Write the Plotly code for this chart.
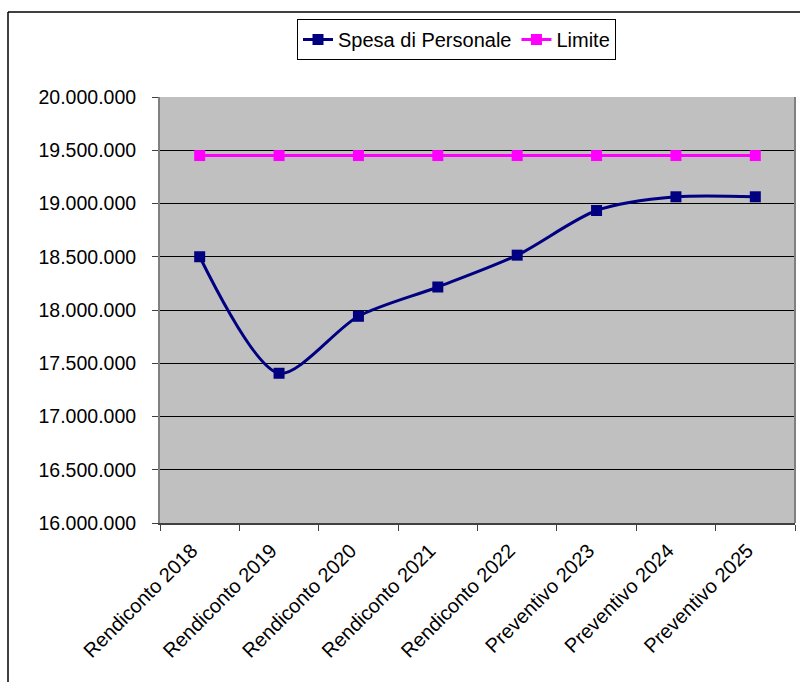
import plotly.graph_objects as go

# Categories and series
categories = [
    "Rendiconto 2018", "Rendiconto 2019", "Rendiconto 2020", "Rendiconto 2021",
    "Rendiconto 2022", "Preventivo 2023", "Preventivo 2024", "Preventivo 2025",
]
spesa_personale = [18500000, 17406000, 17941000, 18216000, 18515000, 18934000, 19063000, 19063000]
limite = [19450000] * 8

y_ticks = [16000000 + 500000 * i for i in range(9)]
y_tick_labels = [f"{v:,}".replace(",", ".") for v in y_ticks]

FONT = "Liberation Sans, Arial, sans-serif"

fig = go.Figure()
fig.add_trace(go.Scatter(
    x=categories, y=spesa_personale, name="Spesa di Personale",
    mode="lines+markers",
    line=dict(color="#000080", width=3, shape="spline", smoothing=0.8),
    marker=dict(symbol="square", size=11, color="#000080"),
))
fig.add_trace(go.Scatter(
    x=categories, y=limite, name="Limite",
    mode="lines+markers",
    line=dict(color="#FF00FF", width=3),
    marker=dict(symbol="square", size=11, color="#FF00FF"),
))

L, R, T, B = 160, 5, 97, 159
W, H = 800, 682
pw, ph = W - L - R, H - T - B

def px_x(p):
    return (p - L) / pw

def px_y(p):
    return 1 - (p - T) / ph

fig.update_layout(
    width=W, height=H,
    margin=dict(l=L, r=R, t=T, b=B),
    paper_bgcolor="white",
    plot_bgcolor="#C0C0C0",
    font=dict(family=FONT, size=20, color="black"),
    showlegend=True,
    legend=dict(
        orientation="h",
        x=px_x(297), y=px_y(19), xanchor="left", yanchor="top",
        bordercolor="#000000", borderwidth=1, bgcolor="white",
        font=dict(family=FONT, size=20, color="black"),
        tracegroupgap=0,
    ),
    xaxis=dict(
        type="category", tickson="boundaries",
        tickangle=-45, ticks="outside", ticklen=6, tickcolor="#404040",
        showline=True, linecolor="#404040", linewidth=2,
        showgrid=False, range=[-0.5, 7.5],
        ticklabelshift=-8, ticklabelstandoff=6,
        tickfont=dict(family=FONT, size=20, color="black"),
    ),
    yaxis=dict(
        range=[16000000, 20000000],
        tickvals=y_ticks, ticktext=y_tick_labels,
        ticks="outside", ticklen=6, tickcolor="#404040",
        showline=True, linecolor="#808080", linewidth=2,
        showgrid=True, gridcolor="#000000", gridwidth=1,
        zeroline=False, ticklabelstandoff=12,
        tickfont=dict(family=FONT, size=19.5, color="black"),
    ),
    shapes=[
        # plot area frame on the right
        dict(type="line", xref="paper", yref="paper", x0=1, x1=1, y0=0, y1=1,
             line=dict(color="#808080", width=2)),
        # chart border: top and left edges
        dict(type="line", xref="paper", yref="paper",
             x0=px_x(8), x1=px_x(800), y0=px_y(12), y1=px_y(12),
             line=dict(color="#000000", width=1.5)),
        dict(type="line", xref="paper", yref="paper",
             x0=px_x(8), x1=px_x(8), y0=px_y(12), y1=px_y(682),
             line=dict(color="#000000", width=1.5)),
    ],
)

fig.write_html("out.html")
